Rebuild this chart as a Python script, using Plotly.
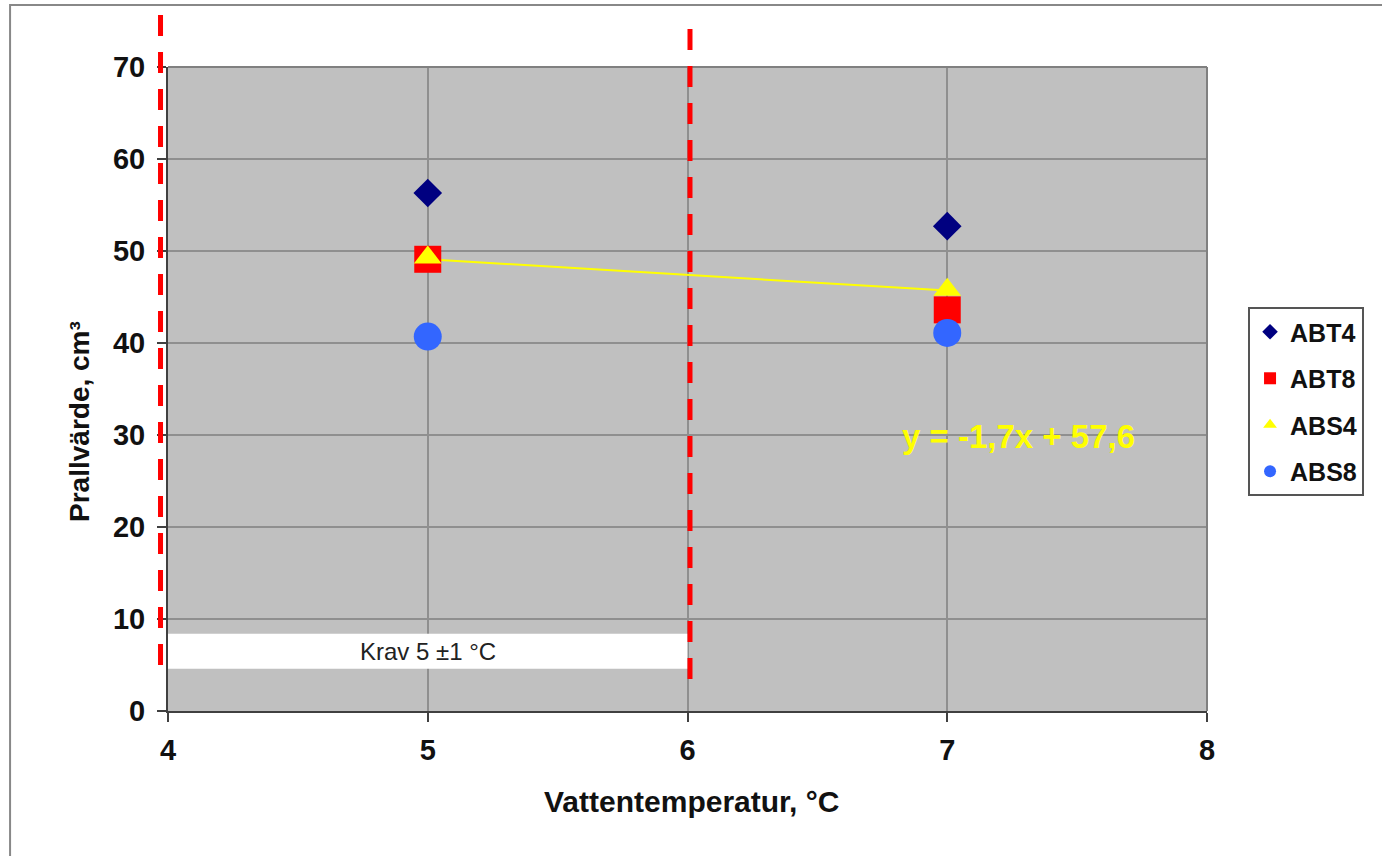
import plotly.graph_objects as go

# ---- data ----
x_temp = [5, 7]
abt4 = [56.3, 52.7]
abt8 = [49.1, 43.6]
abs4 = [49.3, 45.8]
abs8 = [40.7, 41.1]
trend_x = [5, 7]
trend_y = [49.1, 45.7]
series_names = ["ABT4", "ABT8", "ABS4", "ABS8"]
series_colors = ["#000080", "#FF0000", "#FFFF00", "#3366FF"]
series_symbols = ["diamond", "square", "triangle-up", "circle"]
series_sizes = [22, 27, 24, 28]
x_ticks = [4, 5, 6, 7, 8]
y_ticks = [0, 10, 20, 30, 40, 50, 60, 70]
krav_range_x = [4, 6]
krav_range_y = [4.6, 8.4]

FONT = "Liberation Sans, Arial, sans-serif"

fig = go.Figure()

# trendline (below markers)
fig.add_trace(go.Scatter(x=trend_x, y=trend_y, mode="lines",
                         line=dict(color="#FFFF00", width=2),
                         showlegend=False, hoverinfo="skip"))

for name, vals, col, sym, sz in zip(series_names, [abt4, abt8, abs4, abs8],
                                    series_colors, series_symbols, series_sizes):
    fig.add_trace(go.Scatter(x=x_temp, y=vals, mode="markers", name=name,
                             marker=dict(color=col, symbol=sym, size=sz,
                                         line=dict(width=0)),
                             showlegend=False, legendgroup=name))
    # small legend proxy
    fig.add_trace(go.Scatter(x=[None], y=[None], mode="markers", name=f"<b>{name}</b>",
                             marker=dict(color=col, symbol=sym, size=12,
                                         line=dict(width=0)),
                             showlegend=True, legendgroup=name))

# white Krav box
fig.add_shape(type="rect", xref="x", yref="y",
              x0=krav_range_x[0], x1=krav_range_x[1],
              y0=krav_range_y[0], y1=krav_range_y[1],
              fillcolor="white", line=dict(width=0), layer="above")

# top/right plot border
fig.add_shape(type="line", xref="paper", yref="paper", x0=0, x1=1, y0=1, y1=1,
              line=dict(color="#808080", width=2), layer="above")
fig.add_shape(type="line", xref="paper", yref="paper", x0=1, x1=1, y0=0, y1=1,
              line=dict(color="#808080", width=2), layer="above")

# red dashed limit lines
fig.add_shape(type="line", xref="paper", yref="paper",
              x0=-0.0072, x1=-0.0072, y0=1.0807, y1=0.0637,
              line=dict(color="#FF0000", width=5, dash="21px,16px"), layer="above")
fig.add_shape(type="line", xref="paper", yref="paper",
              x0=0.5024, x1=0.5024, y0=1.059, y1=0.0404,
              line=dict(color="#FF0000", width=5, dash="21px,16px"), layer="above")

# outer chart frame
fig.add_shape(type="rect", xref="paper", yref="paper",
              x0=-0.152, x1=1.5, y0=-0.5, y1=1.0963,
              line=dict(color="#888888", width=2), fillcolor="rgba(0,0,0,0)",
              layer="above")

fig.add_annotation(x=5, y=6.5, xref="x", yref="y", text="Krav 5 ±1 °C",
                   showarrow=False, font=dict(family=FONT, size=24, color="#222222"))
fig.add_annotation(x=7.276, y=29.8, xref="x", yref="y", text="<b>y = -1,7x + 57,6</b>",
                   showarrow=False, font=dict(family=FONT, size=33, color="#FFFF00"))

fig.add_annotation(x=0.5043, y=-0.1413, xref="paper", yref="paper",
                   text="<b>Vattentemperatur, °C</b>", showarrow=False,
                   xanchor="center", yanchor="middle",
                   font=dict(family=FONT, size=30, color="#111111"))
fig.add_annotation(x=-0.0857, y=0.4503, xref="paper", yref="paper",
                   text="<b>Prallvärde, cm³</b>", showarrow=False, textangle=-90,
                   xanchor="center", yanchor="middle",
                   font=dict(family=FONT, size=28, color="#111111"))

fig.update_layout(
    width=1382, height=856,
    margin=dict(l=168, r=175, t=67, b=145, pad=0),
    paper_bgcolor="white", plot_bgcolor="#C0C0C0",
    font=dict(family=FONT, color="#111111"),
    legend=dict(x=1.0395, y=0.6273, xanchor="left", yanchor="top",
                bgcolor="white", bordercolor="#555555", borderwidth=2,
                font=dict(family=FONT, size=25, color="#111111"),
                traceorder="grouped", tracegroupgap=11,
                itemsizing="trace"),
    showlegend=True,
)

fig.update_xaxes(range=[4, 8], tickvals=x_ticks, ticktext=[f"<b>{v}</b>" for v in x_ticks],
                 showgrid=True, gridcolor="#8f8f8f", gridwidth=1.5,
                 zeroline=False, showline=True, linecolor="#404040", linewidth=2,
                 ticks="outside", ticklen=9, tickwidth=2, tickcolor="#404040",
                 tickfont=dict(family=FONT, size=29, color="#111111"),
                 ticklabelstandoff=3)
fig.update_yaxes(range=[0, 70], tickvals=y_ticks, ticktext=[f"<b>{v}</b>" for v in y_ticks],
                 showgrid=True, gridcolor="#8f8f8f", gridwidth=1.5,
                 zeroline=False, showline=True, linecolor="#404040", linewidth=2,
                 ticks="outside", ticklen=9, tickwidth=2, tickcolor="#404040",
                 tickfont=dict(family=FONT, size=29, color="#111111"),
                 ticklabelstandoff=6)

fig.write_html("out.html")
